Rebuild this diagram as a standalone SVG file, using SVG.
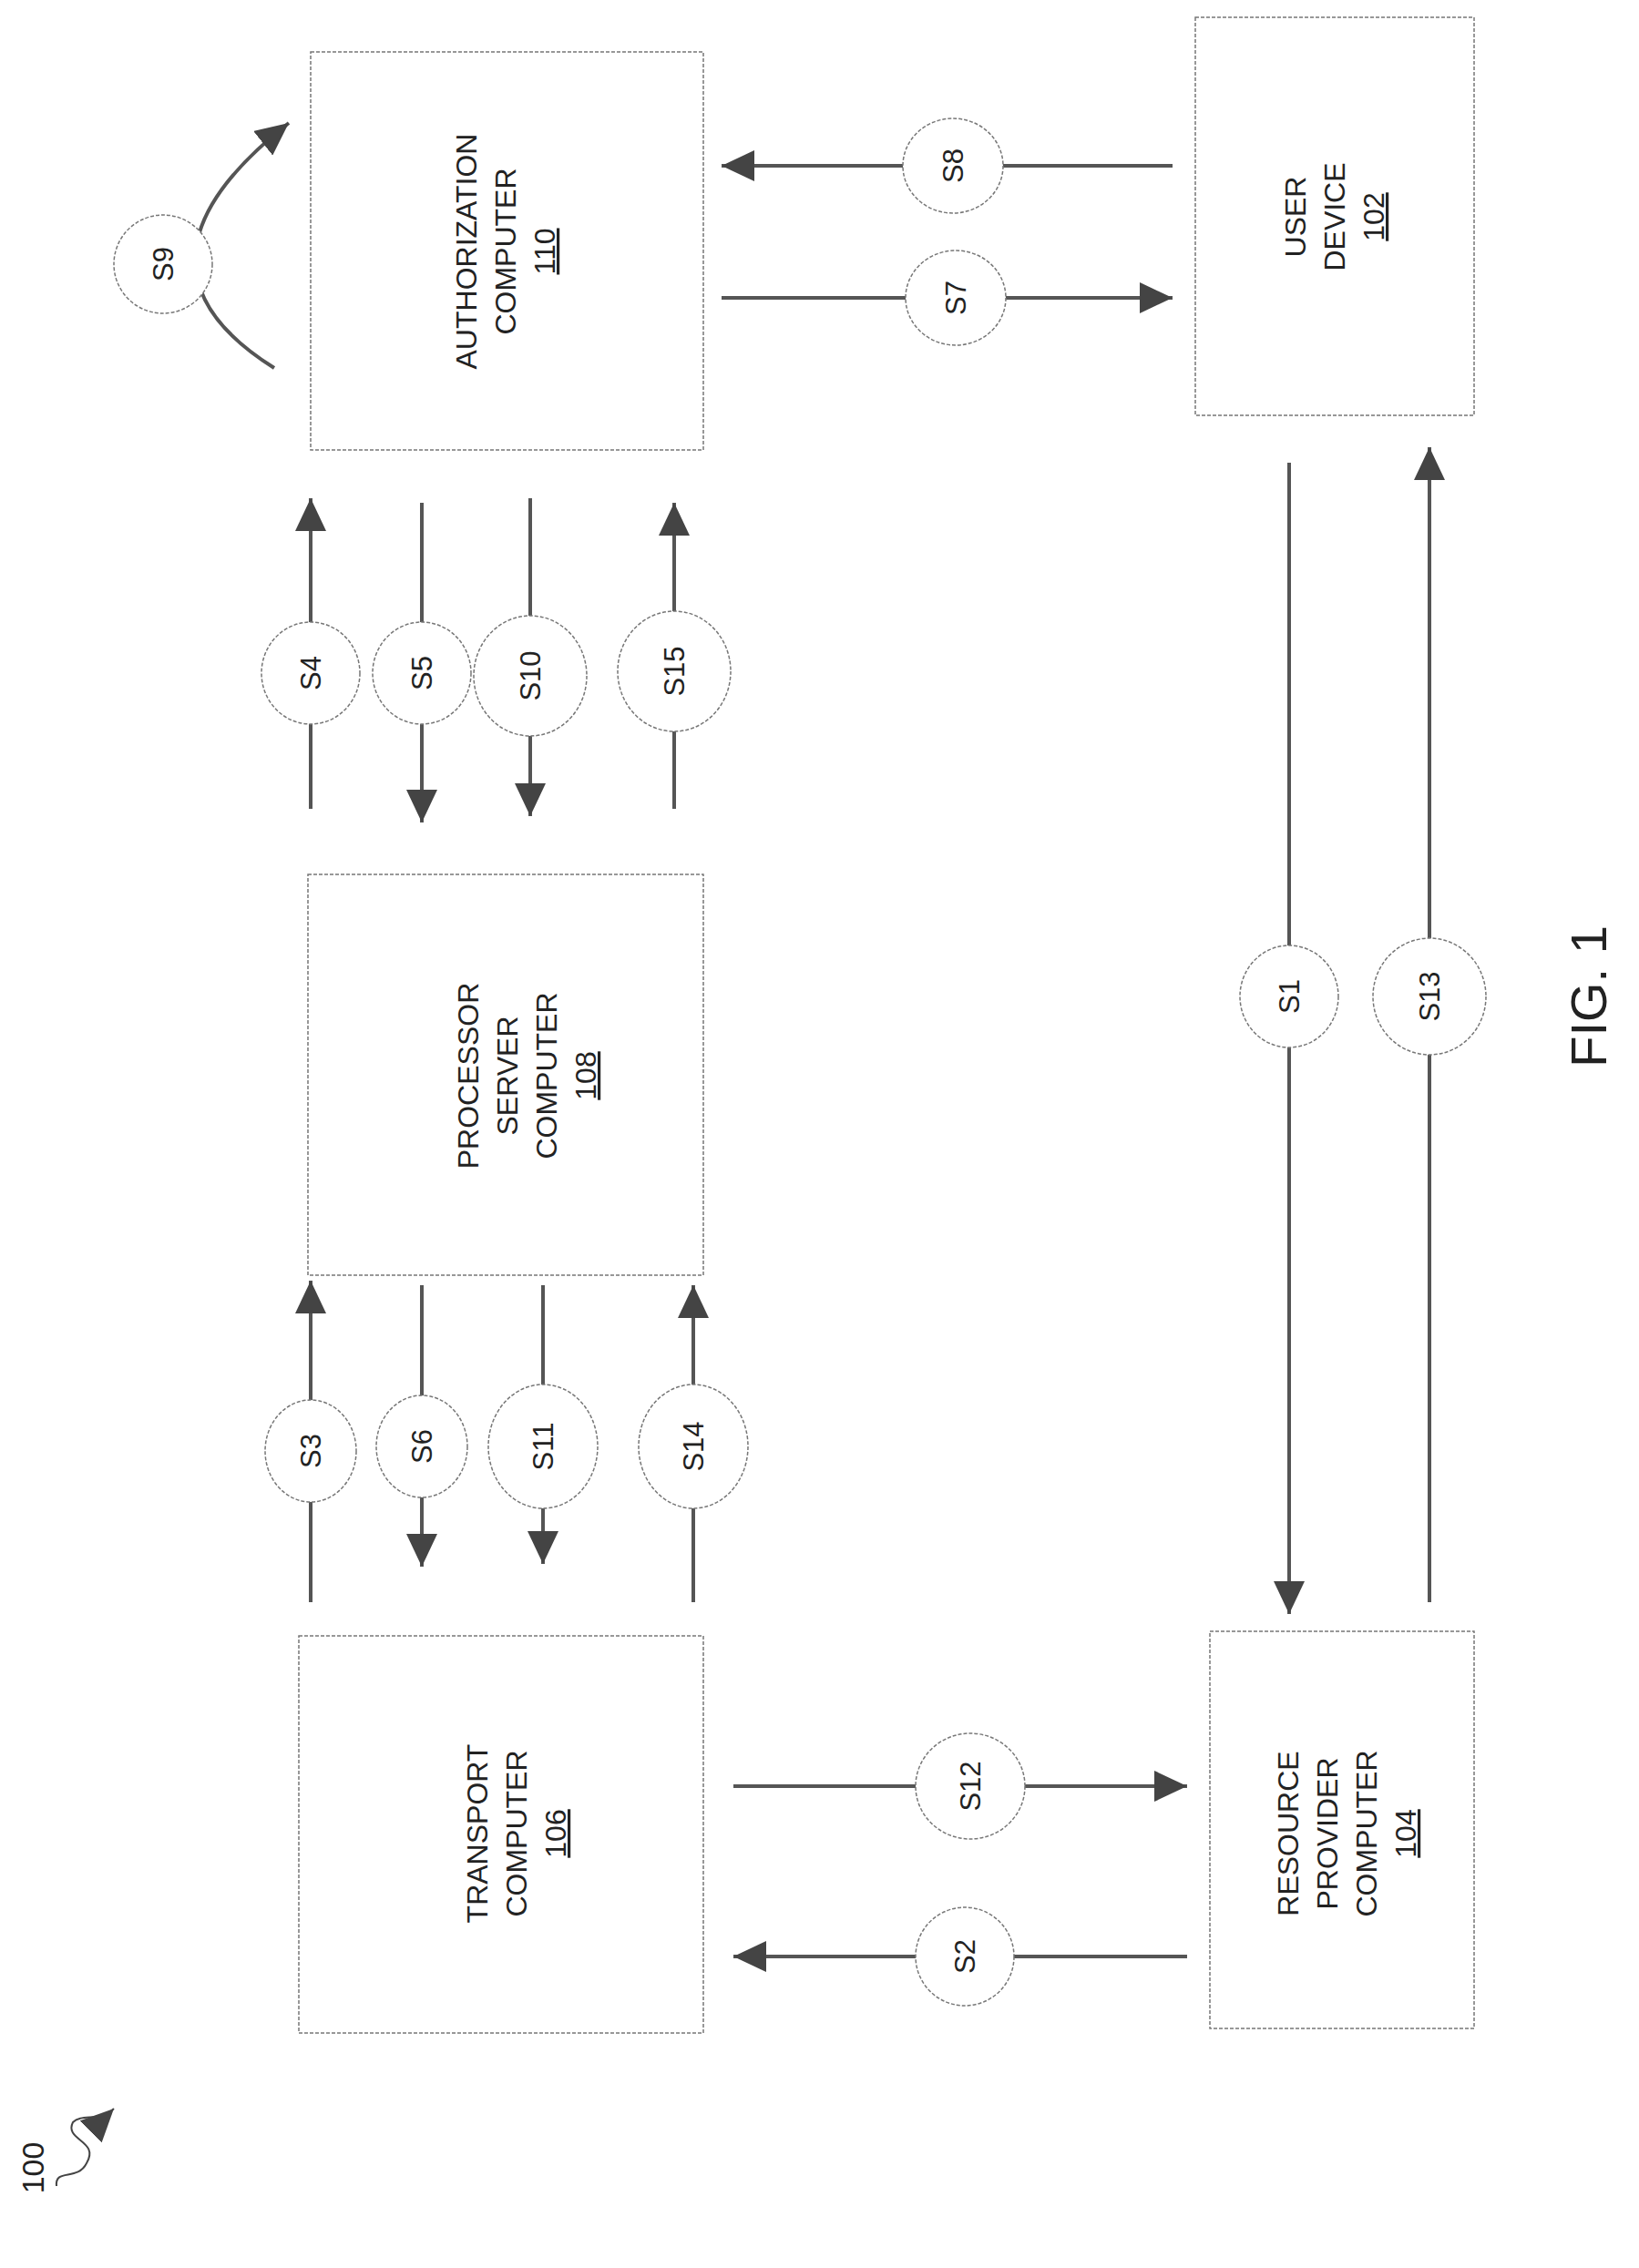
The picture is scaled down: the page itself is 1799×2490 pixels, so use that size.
<svg xmlns="http://www.w3.org/2000/svg" width="1799" height="2490" viewBox="0 0 1799 2490">
<style>
.box{fill:#fff;stroke:#777;stroke-width:1.5;stroke-dasharray:4 2}
.ln{fill:none;stroke:#555;stroke-width:4}
.c{fill:#fff;stroke:#777;stroke-width:1.5;stroke-dasharray:4 2}
.t{font-family:"Liberation Sans",Arial,sans-serif;font-size:32px;fill:#222;text-anchor:middle}
.s{font-family:"Liberation Sans",Arial,sans-serif;font-size:31px;fill:#222;text-anchor:middle;dominant-baseline:central}
</style>
<defs>
<marker id="a" viewBox="0 0 36 34" refX="36" refY="17" markerWidth="36" markerHeight="34" orient="auto" markerUnits="userSpaceOnUse">
<path d="M0,0 L36,17 L0,34 z" fill="#444"/>
</marker>
</defs>
<g id="connectors">
<line class="ln" x1="1287" y1="182" x2="792" y2="182" marker-end="url(#a)"/>
<line class="ln" x1="792" y1="327" x2="1287" y2="327" marker-end="url(#a)"/>
<path class="ln" d="M301,404 Q120,290 317,135" marker-end="url(#a)"/>
<line class="ln" x1="341" y1="888" x2="341" y2="547" marker-end="url(#a)"/>
<line class="ln" x1="463" y1="552" x2="463" y2="903" marker-end="url(#a)"/>
<line class="ln" x1="582" y1="547" x2="582" y2="896" marker-end="url(#a)"/>
<line class="ln" x1="740" y1="888" x2="740" y2="552" marker-end="url(#a)"/>
<line class="ln" x1="341" y1="1759" x2="341" y2="1406" marker-end="url(#a)"/>
<line class="ln" x1="463" y1="1411" x2="463" y2="1720" marker-end="url(#a)"/>
<line class="ln" x1="596" y1="1411" x2="596" y2="1717" marker-end="url(#a)"/>
<line class="ln" x1="761" y1="1759" x2="761" y2="1411" marker-end="url(#a)"/>
<line class="ln" x1="1415" y1="508" x2="1415" y2="1772" marker-end="url(#a)"/>
<line class="ln" x1="1569" y1="1759" x2="1569" y2="491" marker-end="url(#a)"/>
<line class="ln" x1="805" y1="1961" x2="1303" y2="1961" marker-end="url(#a)"/>
<line class="ln" x1="1303" y1="2148" x2="805" y2="2148" marker-end="url(#a)"/>
<path d="M62,2400 C60,2380 85,2395 95,2375 C110,2350 70,2350 80,2330 C90,2320 110,2330 125,2315" fill="none" stroke="#444" stroke-width="2" marker-end="url(#a)"/>
</g>
<g id="n110"><rect class="box" x="341" y="57" width="431" height="437"/>
<g transform="translate(556,276) rotate(-90)"><text class="t" y="-33">AUTHORIZATION</text><text class="t" y="10">COMPUTER</text><text class="t" y="53" text-decoration="underline">110</text></g></g>
<g id="n102"><rect class="box" x="1312" y="19" width="306" height="437"/>
<g transform="translate(1466,238) rotate(-90)"><text class="t" y="-33">USER</text><text class="t" y="10">DEVICE</text><text class="t" y="53" text-decoration="underline">102</text></g></g>
<g id="n108"><rect class="box" x="338" y="960" width="434" height="440"/>
<g transform="translate(558,1181) rotate(-90)"><text class="t" y="-33">PROCESSOR</text><text class="t" y="10">SERVER</text><text class="t" y="53">COMPUTER</text><text class="t" y="96" text-decoration="underline">108</text></g></g>
<g id="n106"><rect class="box" x="328" y="1796" width="444" height="436"/>
<g transform="translate(558,2013) rotate(-90)"><text class="t" y="-23">TRANSPORT</text><text class="t" y="20">COMPUTER</text><text class="t" y="63" text-decoration="underline">106</text></g></g>
<g id="n104"><rect class="box" x="1328" y="1791" width="290" height="436"/>
<g transform="translate(1470,2013) rotate(-90)"><text class="t" y="-45">RESOURCE</text><text class="t" y="-2">PROVIDER</text><text class="t" y="41">COMPUTER</text><text class="t" y="84" text-decoration="underline">104</text></g></g>
<g id="labels">
<g transform="translate(1046,182)"><ellipse class="c" rx="55" ry="52"/><text class="s" transform="rotate(-90)">S8</text></g>
<g transform="translate(1049,327)"><ellipse class="c" rx="55" ry="52"/><text class="s" transform="rotate(-90)">S7</text></g>
<g transform="translate(179,290)"><ellipse class="c" rx="54" ry="54"/><text class="s" transform="rotate(-90)">S9</text></g>
<g transform="translate(341,739)"><ellipse class="c" rx="54" ry="56"/><text class="s" transform="rotate(-90)">S4</text></g>
<g transform="translate(463,739)"><ellipse class="c" rx="54" ry="56"/><text class="s" transform="rotate(-90)">S5</text></g>
<g transform="translate(582,742)"><ellipse class="c" rx="62" ry="66"/><text class="s" transform="rotate(-90)">S10</text></g>
<g transform="translate(740,737)"><ellipse class="c" rx="62" ry="66"/><text class="s" transform="rotate(-90)">S15</text></g>
<g transform="translate(341,1593)"><ellipse class="c" rx="50" ry="56"/><text class="s" transform="rotate(-90)">S3</text></g>
<g transform="translate(463,1588)"><ellipse class="c" rx="50" ry="56"/><text class="s" transform="rotate(-90)">S6</text></g>
<g transform="translate(596,1588)"><ellipse class="c" rx="60" ry="68"/><text class="s" transform="rotate(-90)">S11</text></g>
<g transform="translate(761,1588)"><ellipse class="c" rx="60" ry="68"/><text class="s" transform="rotate(-90)">S14</text></g>
<g transform="translate(1415,1094)"><ellipse class="c" rx="54" ry="56"/><text class="s" transform="rotate(-90)">S1</text></g>
<g transform="translate(1569,1094)"><ellipse class="c" rx="62" ry="64"/><text class="s" transform="rotate(-90)">S13</text></g>
<g transform="translate(1065,1961)"><ellipse class="c" rx="60" ry="58"/><text class="s" transform="rotate(-90)">S12</text></g>
<g transform="translate(1059,2148)"><ellipse class="c" rx="54" ry="54"/><text class="s" transform="rotate(-90)">S2</text></g>
<text class="s" style="font-size:56px" transform="translate(1743,1094) rotate(-90)">FIG. 1</text>
<text class="s" style="font-size:34px" transform="translate(36,2380) rotate(-90)">100</text>
</g>
</svg>
